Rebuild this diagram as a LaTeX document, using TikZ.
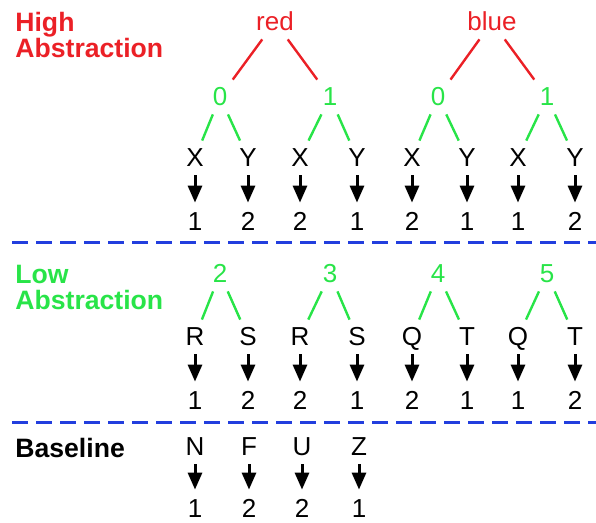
\documentclass[tikz,border=0pt]{standalone}
\usepackage{fontspec}
\setmainfont{Liberation Sans}
\usepackage{xcolor}
\usetikzlibrary{arrows.meta}
\definecolor{hired}{RGB}{235,32,38}
\definecolor{logreen}{RGB}{40,228,72}
\definecolor{sepblue}{RGB}{34,62,222}

\begin{document}
\begin{tikzpicture}[x=0.5pt, y=-0.5pt,
    sym/.style={inner sep=4pt, text height=9pt, text depth=0pt, font=\fontsize{13}{15}\selectfont},
    sectitle/.style={anchor=west, align=left, inner sep=0pt, font=\fontsize{13.3}{13}\selectfont\bfseries},
    redline/.style={hired, line width=1.2pt},
    greenline/.style={logreen, line width=1.2pt},
    maparrow/.style={line width=1.5pt, -{Triangle[length=8.5pt,width=7pt]}, shorten >=1pt},
    sep/.style={sepblue, line width=1.5pt, dash pattern=on 8pt off 4pt}]
    \useasboundingbox (0,0) rectangle (596,523);

    % Section titles
    \node[sectitle, hired] (hightitle) at (15,35) {High\\Abstraction};
    \node[sectitle, logreen] (lowtitle) at (15,287) {Low\\Abstraction};
    \node[sectitle] (basetitle) at (15,448) {Baseline};

    % High abstraction: colour -> bit -> symbol -> value
    \node[sym, hired] (red) at (275,22) {red};
    \node[sym, hired] (blue) at (492,22) {blue};
    \foreach \x/\t [count=\i] in {220/0, 330/1, 438/0, 547/1} {
        \node[sym, logreen] (hg\i) at (\x,97) {\t};
    }
    \draw[redline] (red) -- (hg1);
    \draw[redline] (red) -- (hg2);
    \draw[redline] (blue) -- (hg3);
    \draw[redline] (blue) -- (hg4);
    \foreach \x/\s/\v [count=\i] in {195/X/1, 248/Y/2, 300/X/2, 357/Y/1,
                                     412/X/2, 467/Y/1, 518/X/1, 575/Y/2} {
        \node[sym] (hx\i) at (\x,158) {\s};
        \node[sym] (hn\i) at (\x,222) {\v};
        \draw[maparrow] (hx\i) -- (hn\i);
    }
    \foreach \g [evaluate=\g as \l using int(2*\g-1), evaluate=\g as \r using int(2*\g)] in {1,...,4} {
        \draw[greenline] (hg\g) -- (hx\l);
        \draw[greenline] (hg\g) -- (hx\r);
    }

    % Separators
    \draw[sep] (12,243) -- (596,243);
    \draw[sep] (12,423) -- (596,423);

    % Low abstraction
    \foreach \x/\t [count=\i] in {220/2, 330/3, 438/4, 547/5} {
        \node[sym, logreen] (lg\i) at (\x,274) {\t};
    }
    \foreach \x/\s/\v [count=\i] in {195/R/1, 248/S/2, 300/R/2, 357/S/1,
                                     412/Q/2, 467/T/1, 518/Q/1, 575/T/2} {
        \node[sym] (lx\i) at (\x,337) {\s};
        \node[sym] (ln\i) at (\x,401) {\v};
        \draw[maparrow] (lx\i) -- (ln\i);
    }
    \foreach \g [evaluate=\g as \l using int(2*\g-1), evaluate=\g as \r using int(2*\g)] in {1,...,4} {
        \draw[greenline] (lg\g) -- (lx\l);
        \draw[greenline] (lg\g) -- (lx\r);
    }

    % Baseline
    \foreach \x/\s/\v [count=\i] in {195/N/1, 249/F/2, 302/U/2, 359/Z/1} {
        \node[sym] (bx\i) at (\x,447) {\s};
        \node[sym] (bn\i) at (\x,509) {\v};
        \draw[maparrow] (bx\i) -- (bn\i);
    }
\end{tikzpicture}
\end{document}
